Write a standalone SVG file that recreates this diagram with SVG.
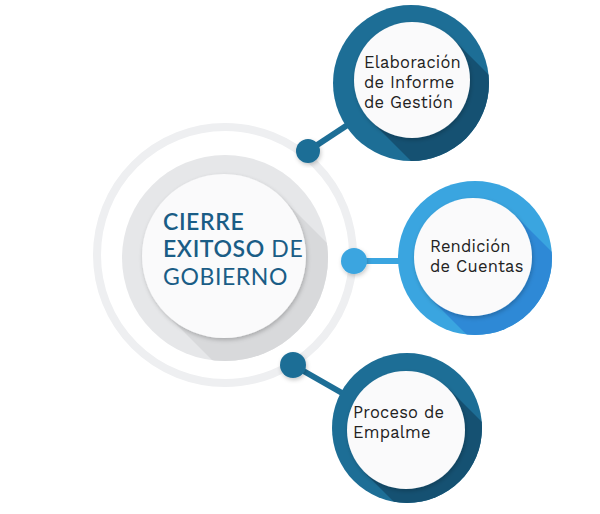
<svg xmlns="http://www.w3.org/2000/svg" width="600" height="514" viewBox="0 0 600 514">
<defs>
<style>
.lbl{font-family:"Work Sans","Open Sans","Liberation Sans",sans-serif;font-size:16.5px;fill:#222;letter-spacing:0.2px}
.ttl{font-family:Lato,"Liberation Sans",sans-serif;font-size:23px;fill:#1a5d86;letter-spacing:0.6px}
.b{font-weight:600}
.white{fill:#fafafb}
</style>
<filter id="ds" x="-20%" y="-20%" width="140%" height="140%">
<feDropShadow dx="1" dy="2" stdDeviation="2" flood-color="#000" flood-opacity="0.22"/>
</filter>
<clipPath id="cTop"><circle cx="411" cy="83" r="78"/></clipPath>
<clipPath id="cMid"><circle cx="475" cy="258" r="77"/></clipPath>
<clipPath id="cBot"><circle cx="407" cy="428" r="75"/></clipPath>
<clipPath id="cCen"><circle cx="225" cy="258" r="103"/></clipPath>
</defs>
<rect width="600" height="514" fill="#ffffff"/>

<g id="center">
<circle cx="225" cy="255" r="128" fill="none" stroke="#eeeff1" stroke-width="8"/>
<circle cx="225" cy="258" r="103" fill="#e6e7e9"/>
<polygon clip-path="url(#cCen)" points="166,314 282,198 482,398 366,514" fill="#d8d9db"/>
<circle cx="224" cy="256" r="82" class="white" filter="url(#ds)"/>
<text class="ttl b" x="163" y="230">CIERRE</text>
<text class="ttl" x="163" y="257"><tspan class="b">EXITOSO</tspan> DE</text>
<text class="ttl" x="163" y="285">GOBIERNO</text>
</g>

<g id="connectors">
<line x1="308" y1="151" x2="352" y2="122" stroke="#1d6e96" stroke-width="6"/>
<circle cx="308" cy="151" r="12" fill="#1d6e96" filter="url(#ds)"/>
<line x1="354" y1="261" x2="405" y2="261" stroke="#3aa5e0" stroke-width="6"/>
<circle cx="354" cy="261" r="13" fill="#3aa5e0" filter="url(#ds)"/>
<line x1="293" y1="365" x2="342" y2="393" stroke="#1d6e96" stroke-width="6"/>
<circle cx="293" cy="365" r="13" fill="#1d6e96" filter="url(#ds)"/>
</g>

<g id="node-informe">
<circle cx="411" cy="83" r="78" fill="#1d6e96"/>
<polygon clip-path="url(#cTop)" points="371,121 453,39 603,189 521,271" fill="#155172"/>
<circle cx="412" cy="80" r="58" class="white" filter="url(#ds)"/>
<text class="lbl" x="364" y="68">Elaboración</text>
<text class="lbl" x="364" y="88">de Informe</text>
<text class="lbl" x="364" y="108">de Gestión</text>
</g>

<g id="node-rendicion">
<circle cx="475" cy="258" r="77" fill="#3aa5e0"/>
<polygon clip-path="url(#cMid)" points="431,299 515,215 665,365 581,449" fill="#2e89d6"/>
<circle cx="473" cy="257" r="59" class="white" filter="url(#ds)"/>
<text class="lbl" x="430" y="252">Rendición</text>
<text class="lbl" x="430" y="272">de Cuentas</text>
</g>

<g id="node-empalme">
<circle cx="407" cy="428" r="75" fill="#1d6e96"/>
<polygon clip-path="url(#cBot)" points="364,472 448,388 598,538 514,622" fill="#155172"/>
<circle cx="406" cy="430" r="59" class="white" filter="url(#ds)"/>
<text class="lbl" x="353" y="418">Proceso de</text>
<text class="lbl" x="353" y="438">Empalme</text>
</g>
</svg>
